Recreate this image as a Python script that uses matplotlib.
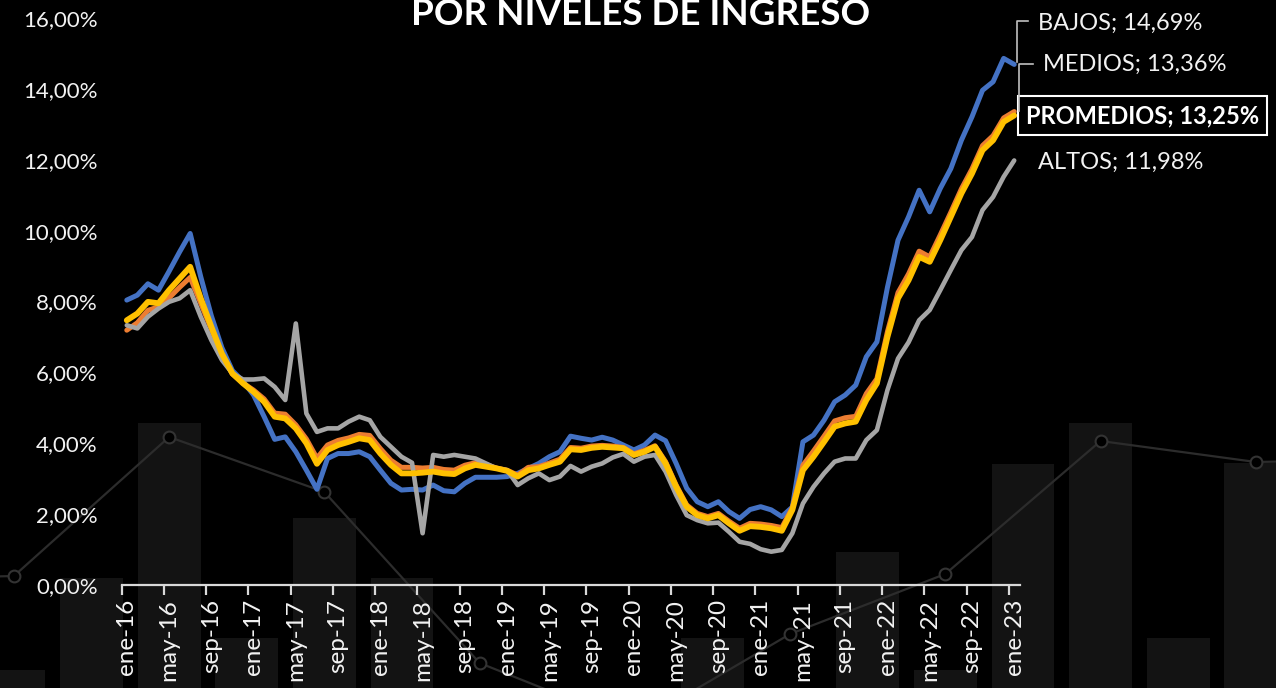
import matplotlib
matplotlib.use("Agg")
import matplotlib.pyplot as plt
from matplotlib.lines import Line2D

# ---------------- data ----------------
meses = ["ene", "feb", "mar", "abr", "may", "jun", "jul", "ago", "sep", "oct", "nov", "dic"]
anios = [16, 17, 18, 19, 20, 21, 22, 23]
categorias = [f"{meses[m]}-{a}" for a in anios for m in range(12)][:85]  # ene-16 .. ene-23

bajos = [8.04, 8.18, 8.50, 8.32, 8.85, 9.40, 9.92, 8.70, 7.60, 6.70, 6.05, 5.75,
         5.36, 4.75, 4.11, 4.18, 3.76, 3.24, 2.70, 3.57, 3.71, 3.71, 3.76, 3.62,
         3.24, 2.87, 2.68, 2.70, 2.68, 2.82, 2.66, 2.63, 2.87, 3.04, 3.04, 3.04,
         3.06, 3.15, 3.29, 3.43, 3.62, 3.76, 4.20, 4.14, 4.09, 4.17, 4.09, 3.95,
         3.81, 3.95, 4.23, 4.07, 3.43, 2.73, 2.35, 2.21, 2.35, 2.07, 1.88, 2.13,
         2.21, 2.12, 1.93, 2.20, 4.04, 4.23, 4.65, 5.17, 5.36, 5.64, 6.44, 6.86,
         8.40, 9.73, 10.39, 11.14, 10.53, 11.19, 11.75, 12.55, 13.21, 13.96, 14.20, 14.86,
         14.69]
medios = [7.19, 7.40, 7.75, 7.85, 8.10, 8.40, 8.68, 7.95, 7.22, 6.50, 5.95, 5.70,
          5.50, 5.25, 4.85, 4.82, 4.52, 4.12, 3.58, 3.95, 4.08, 4.15, 4.25, 4.22,
          3.85, 3.52, 3.32, 3.32, 3.30, 3.32, 3.26, 3.24, 3.38, 3.45, 3.40, 3.30,
          3.24, 3.10, 3.32, 3.34, 3.44, 3.55, 3.88, 3.86, 3.92, 3.94, 3.92, 3.88,
          3.70, 3.80, 3.93, 3.48, 2.82, 2.26, 2.02, 1.93, 2.02, 1.80, 1.60, 1.74,
          1.72, 1.68, 1.62, 2.18, 3.38, 3.78, 4.20, 4.63, 4.72, 4.76, 5.40, 5.82,
          7.15, 8.25, 8.78, 9.42, 9.26, 9.88, 10.52, 11.18, 11.74, 12.40, 12.68, 13.18,
          13.36]
altos = [7.33, 7.24, 7.57, 7.80, 7.99, 8.09, 8.32, 7.57, 6.91, 6.35, 5.97, 5.80,
         5.80, 5.83, 5.59, 5.22, 7.38, 4.84, 4.32, 4.42, 4.42, 4.61, 4.75, 4.65,
         4.18, 3.90, 3.62, 3.45, 1.46, 3.67, 3.62, 3.67, 3.62, 3.57, 3.43, 3.29,
         3.24, 2.82, 3.01, 3.15, 2.96, 3.06, 3.36, 3.20, 3.34, 3.43, 3.60, 3.70,
         3.48, 3.62, 3.67, 3.20, 2.54, 1.97, 1.83, 1.74, 1.76, 1.50, 1.22, 1.16,
         1.01, 0.94, 0.99, 1.46, 2.30, 2.77, 3.15, 3.48, 3.57, 3.57, 4.09, 4.37,
         5.50, 6.39, 6.85, 7.47, 7.76, 8.32, 8.89, 9.45, 9.82, 10.58, 10.95, 11.52,
         11.98]
promedios = [7.47, 7.66, 7.99, 7.95, 8.32, 8.65, 8.98, 8.09, 7.29, 6.53, 5.97, 5.69,
             5.45, 5.17, 4.75, 4.70, 4.42, 4.00, 3.42, 3.81, 3.95, 4.04, 4.14, 4.09,
             3.71, 3.39, 3.15, 3.15, 3.17, 3.20, 3.15, 3.13, 3.29, 3.39, 3.34, 3.29,
             3.22, 3.06, 3.24, 3.29, 3.39, 3.48, 3.83, 3.81, 3.87, 3.90, 3.88, 3.86,
             3.67, 3.76, 3.90, 3.43, 2.77, 2.21, 1.97, 1.88, 1.97, 1.74, 1.53, 1.66,
             1.64, 1.60, 1.53, 2.12, 3.24, 3.62, 4.04, 4.47, 4.56, 4.61, 5.22, 5.69,
             7.00, 8.09, 8.60, 9.26, 9.12, 9.73, 10.39, 11.05, 11.61, 12.27, 12.55, 13.07,
             13.25]

series_names = ["BAJOS", "MEDIOS", "ALTOS", "PROMEDIOS"]
series_vals = [bajos, medios, altos, promedios]
series_colors = ["#4472C4", "#ED7D31", "#A5A5A5", "#FFC000"]
series_lw = [3.6, 3.6, 3.3, 4.2]

y_ticks = [0, 2, 4, 6, 8, 10, 12, 14, 16]
titulo = "POR NIVELES DE INGRESO"

# decorative background (bars + line with circles)
deco_bar_idx = list(range(17))
deco_bar_h = [18, 110, 265, 50, 170, 110, 0, 0, 0, 50, 0, 136, 18, 224, 265, 50, 225]
deco_line_idx = [-2, 0, 2, 4, 6, 8, 10, 12, 14, 16, 18]
deco_line_h = [108, 112, 251, 196, 25, -37, 54, 114, 247, 226, 229]

# ---------------- figure ----------------
W, H = 1276, 688
fig = plt.figure(figsize=(W / 100, H / 100), dpi=100, facecolor="black")
plt.rcParams["font.family"] = ["Lato", "DejaVu Sans"]

# background decoration
axb = fig.add_axes([0, 0, 1, 1], zorder=0)
axb.set_facecolor("black")
axb.bar(deco_bar_idx, deco_bar_h, width=0.81, color="#131313", edgecolor="none", zorder=1)
axb.plot(deco_line_idx, deco_line_h, color="#2c2c2c", lw=1.6, zorder=2,
         marker="o", ms=8.5, mfc="black", mec="#333333", mew=1.5)
axb.set_xlim(-0.179, 16.26)
axb.set_ylim(0, 688)
axb.axis("off")

# main chart
L, R = 121.5, 1019.5
B, T = 585, 18
ax = fig.add_axes([L / W, (H - B) / H, (R - L) / W, (B - T) / H], zorder=2)
ax.patch.set_alpha(0)
x = list(range(len(categorias)))
for name, vals, c, lw in zip(series_names, series_vals, series_colors, series_lw):
    ax.plot(x, vals, color=c, lw=lw, solid_joinstyle="round", solid_capstyle="round",
            zorder=3)

ax.set_xlim(-0.5, len(categorias) - 0.5)
ax.set_ylim(0, 16)
for s in ["top", "right", "left"]:
    ax.spines[s].set_visible(False)
ax.spines["bottom"].set_color("#d9d9d9")
ax.spines["bottom"].set_linewidth(1.6)

ax.set_yticks(y_ticks)
ax.set_yticklabels([f"{v:.2f}".replace(".", ",") + "%" for v in y_ticks])
ax.tick_params(axis="y", length=0, pad=17, labelsize=16, labelcolor="#f2f2f2")

ax.set_xticks([i - 0.5 for i in range(0, len(categorias), 4)])
ax.set_xticklabels([])
ax.tick_params(axis="x", which="major", length=7, width=1.6, color="#d9d9d9", direction="out")
ax.set_xticks(list(range(0, len(categorias), 4)), minor=True)
ax.set_xticklabels([categorias[i] for i in range(0, len(categorias), 4)], minor=True,
                   rotation=90)
ax.tick_params(axis="x", which="minor", length=0, pad=10, labelsize=17.5, labelcolor="#f2f2f2")
for lab in ax.get_xticklabels(minor=True):
    lab.set_verticalalignment("top")
    lab.set_horizontalalignment("center")

# title (partly cut off by the top edge, as in the reference)
fig.text(0.502, (H - 25) / H, titulo, ha="center", va="baseline", fontsize=26.5,
         fontweight="bold", color="white")

# data labels with leader lines
fig.canvas.draw()
last = len(categorias) - 1


def pix(v):
    return ax.transData.transform((last, v))


def fig_line(pts, **kw):
    xs = [p[0] / W for p in pts]
    ys = [p[1] / H for p in pts]
    fig.add_artist(Line2D(xs, ys, transform=fig.transFigure, **kw))


def fmt(v):
    return f"{v:.2f}".replace(".", ",") + "%"


lead_kw = dict(color="#bfbfbf", lw=1.2, zorder=5)
lab_fs = 17

px, py = pix(bajos[-1])
fig_line([(px + 2.5, py + 2.5), (px + 2.5, py + 43.5), (px + 14, py + 43.5)], **lead_kw)
fig.text((px + 24) / W, (py + 41.5) / H, f"BAJOS; {fmt(bajos[-1])}", ha="left",
         va="center", fontsize=lab_fs, color="#f2f2f2")

px, py = pix(medios[-1])
fig_line([(px + 5, py + 1), (px + 5, py + 48), (px + 19, py + 48)], **lead_kw)
fig.text((px + 29) / W, (py + 47) / H, f"MEDIOS; {fmt(medios[-1])}", ha="left",
         va="center", fontsize=lab_fs, color="#f2f2f2")

px, py = pix(promedios[-1])
fig.text((px + 12) / W, py / H, f"PROMEDIOS; {fmt(promedios[-1])}", ha="left",
         va="center", fontsize=lab_fs, fontweight="bold", color="white",
         bbox=dict(boxstyle="square,pad=0.33", fc="black", ec="white", lw=1.5))

px, py = pix(altos[-1])
fig.text((px + 24) / W, (py - 2) / H, f"ALTOS; {fmt(altos[-1])}", ha="left",
         va="center", fontsize=lab_fs, color="#f2f2f2")

fig.savefig("out.png", dpi=100, facecolor="black")
